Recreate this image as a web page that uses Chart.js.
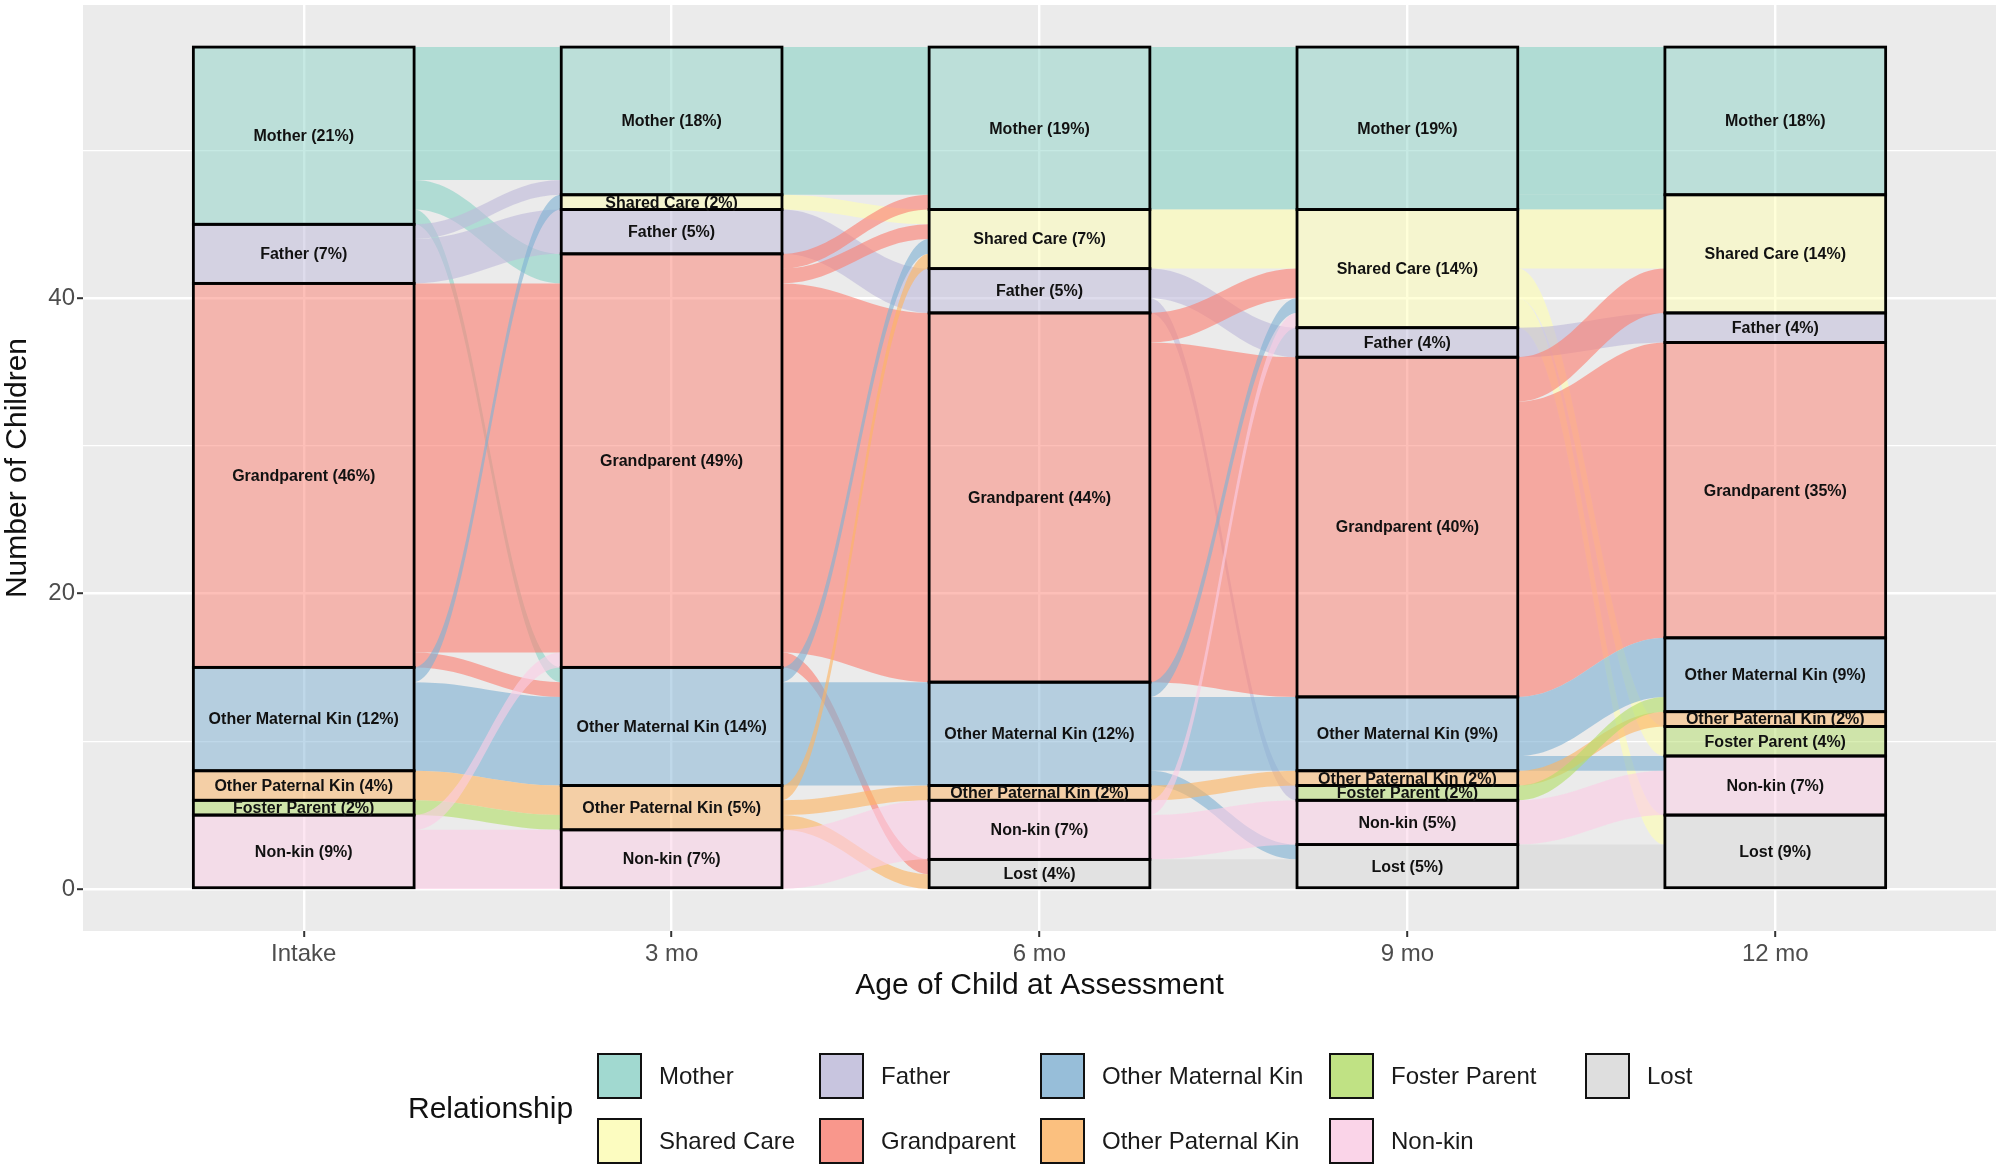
<!DOCTYPE html>
<html>
<head>
<meta charset="utf-8">
<script src="https://cdn.jsdelivr.net/npm/chart.js@4.4.1/dist/chart.umd.min.js"></script>
<style>
  html, body { margin: 0; padding: 0; background: #fff; }
  #wrap { position: relative; width: 2000px; height: 1169px; font-family: 'Liberation Sans', Arial, sans-serif; }
  #chart { position: absolute; left: 0; top: 0; }
  #legendTitle { position: absolute; left: 408px; top: 1090px; font-size: 30px; line-height: 36px; color: #111; }
  #legendKeys {
    position: absolute; left: 597px; top: 1053px;
    display: grid; grid-auto-flow: column;
    grid-template-rows: 46px 46px; row-gap: 19px;
    grid-template-columns: 222px 221px 289px 256px 140px;
  }
  .item { display: flex; align-items: center; }
  .key { width: 45px; height: 46px; box-sizing: border-box; border: 2.5px solid #111; }
  .lab { margin-left: 17px; font-size: 24px; color: #1a1a1a; white-space: nowrap; }
</style>
</head>
<body>
<div id="wrap">
  <canvas id="chart" width="2000" height="1169"></canvas>
  <div id="legendTitle">Relationship</div>
  <div id="legendKeys"></div>
</div>
<script>
// ---- data -----------------------------------------------------------------
const axes = ['Intake', '3 mo', '6 mo', '9 mo', '12 mo'];
const relationships = ['Mother', 'Shared Care', 'Father', 'Grandparent', 'Other Maternal Kin',
  'Other Paternal Kin', 'Foster Parent', 'Non-kin', 'Lost'];
const relColors = ['#8DD3C7', '#FFFFB3', '#BEBADA', '#FB8072', '#80B1D3',
  '#FDB462', '#B3DE69', '#FCCDE5', '#D9D9D9'];

// number of children in each relationship at each assessment
const mother            = [12, 10, 11, 11, 10];
const sharedCare        = [0, 1, 4, 8, 8];
const father            = [4, 3, 3, 2, 2];
const grandparent       = [26, 28, 25, 23, 20];
const otherMaternalKin  = [7, 8, 7, 5, 5];
const otherPaternalKin  = [2, 3, 1, 1, 1];
const fosterParent      = [1, 0, 0, 1, 2];
const nonKin            = [5, 4, 4, 3, 4];
const lost              = [0, 0, 2, 3, 5];
const counts = [mother, sharedCare, father, grandparent, otherMaternalKin,
  otherPaternalKin, fosterParent, nonKin, lost];

// transitions between neighbouring assessments: [from, to, children]
const flowsIntakeTo3 = [
  ['Mother', 'Mother', 9], ['Mother', 'Grandparent', 2], ['Mother', 'Other Maternal Kin', 1],
  ['Father', 'Mother', 1], ['Father', 'Father', 3],
  ['Grandparent', 'Grandparent', 25], ['Grandparent', 'Other Maternal Kin', 1],
  ['Other Maternal Kin', 'Shared Care', 1], ['Other Maternal Kin', 'Other Maternal Kin', 6],
  ['Other Paternal Kin', 'Other Paternal Kin', 2],
  ['Foster Parent', 'Other Paternal Kin', 1],
  ['Non-kin', 'Grandparent', 1], ['Non-kin', 'Non-kin', 4]
];
const flows3To6 = [
  ['Mother', 'Mother', 10],
  ['Shared Care', 'Shared Care', 1],
  ['Father', 'Father', 3],
  ['Grandparent', 'Mother', 1], ['Grandparent', 'Shared Care', 1],
  ['Grandparent', 'Grandparent', 25], ['Grandparent', 'Lost', 1],
  ['Other Maternal Kin', 'Shared Care', 1], ['Other Maternal Kin', 'Other Maternal Kin', 7],
  ['Other Paternal Kin', 'Shared Care', 1], ['Other Paternal Kin', 'Other Paternal Kin', 1],
  ['Other Paternal Kin', 'Lost', 1],
  ['Non-kin', 'Non-kin', 4]
];
const flows6To9 = [
  ['Mother', 'Mother', 11],
  ['Shared Care', 'Shared Care', 4],
  ['Father', 'Father', 2], ['Father', 'Foster Parent', 1],
  ['Grandparent', 'Shared Care', 2], ['Grandparent', 'Grandparent', 23],
  ['Other Maternal Kin', 'Shared Care', 1], ['Other Maternal Kin', 'Other Maternal Kin', 5],
  ['Other Maternal Kin', 'Lost', 1],
  ['Other Paternal Kin', 'Other Paternal Kin', 1],
  ['Non-kin', 'Shared Care', 1], ['Non-kin', 'Non-kin', 3],
  ['Lost', 'Lost', 2]
];
const flows9To12 = [
  ['Mother', 'Mother', 10], ['Mother', 'Shared Care', 1],
  ['Shared Care', 'Shared Care', 4], ['Shared Care', 'Foster Parent', 2], ['Shared Care', 'Lost', 2],
  ['Father', 'Father', 2],
  ['Grandparent', 'Shared Care', 3], ['Grandparent', 'Grandparent', 20],
  ['Other Maternal Kin', 'Other Maternal Kin', 4], ['Other Maternal Kin', 'Non-kin', 1],
  ['Other Paternal Kin', 'Other Paternal Kin', 1],
  ['Foster Parent', 'Other Maternal Kin', 1],
  ['Non-kin', 'Non-kin', 3],
  ['Lost', 'Lost', 3]
];
const gaps = [flowsIntakeTo3, flows3To6, flows6To9, flows9To12];

const yTickLabels = [0, 20, 40];
const yMinorTicks = [10, 30, 50];

// ---- helpers --------------------------------------------------------------
const BAR_WIDTH = 0.6;
const total = counts.reduce((s, c) => s + c[0], 0);

function rgba(hex, a) {
  const n = parseInt(hex.slice(1), 16);
  return `rgba(${n >> 16}, ${(n >> 8) & 255}, ${n & 255}, ${a})`;
}

// top value of each stratum at an assessment (first relationship stacked on top)
function stratumTops(axisIndex) {
  let top = total;
  return counts.map(c => { const t = top; top -= c[axisIndex]; return t; });
}

// position each flow inside its strata: ordered by the stratum on the other side
function layoutGap(gapIndex) {
  const rank = name => relationships.indexOf(name);
  const flows = gaps[gapIndex].map(([from, to, n]) => ({ from: rank(from), to: rank(to), n }));
  const left = stratumTops(gapIndex), right = stratumTops(gapIndex + 1);
  flows.slice().sort((a, b) => a.from - b.from || a.to - b.to).forEach(f => {
    f.l1 = left[f.from]; f.l0 = f.l1 - f.n; left[f.from] = f.l0;
  });
  flows.slice().sort((a, b) => a.to - b.to || a.from - b.from).forEach(f => {
    f.r1 = right[f.to]; f.r0 = f.r1 - f.n; right[f.to] = f.r0;
  });
  return flows;
}

const panelBackground = {
  id: 'panelBackground',
  beforeDraw(chart) {
    const { ctx, chartArea: a } = chart;
    ctx.save();
    ctx.fillStyle = '#EBEBEB';
    ctx.fillRect(a.left, a.top, a.right - a.left, a.bottom - a.top);
    ctx.restore();
  }
};

const alluvialFlows = {
  id: 'alluvialFlows',
  beforeDatasetsDraw(chart) {
    const { ctx } = chart;
    const xs = chart.scales.x, ys = chart.scales.y;
    const Y = v => ys.getPixelForValue(v);
    ctx.save();
    gaps.forEach((_, g) => {
      const xL = xs.getPixelForValue(g + 1 + BAR_WIDTH / 2);
      const xR = xs.getPixelForValue(g + 2 - BAR_WIDTH / 2);
      const dx = (xR - xL) * 0.4;
      layoutGap(g).forEach(f => {
        ctx.beginPath();
        ctx.moveTo(xL, Y(f.l1));
        ctx.bezierCurveTo(xL + dx, Y(f.l1), xR - dx, Y(f.r1), xR, Y(f.r1));
        ctx.lineTo(xR, Y(f.r0));
        ctx.bezierCurveTo(xR - dx, Y(f.r0), xL + dx, Y(f.l0), xL, Y(f.l0));
        ctx.closePath();
        ctx.fillStyle = rgba(relColors[f.from], 0.62);
        ctx.fill();
      });
    });
    ctx.restore();
  }
};

const strataOutline = {
  id: 'strataOutline',
  afterDatasetsDraw(chart) {
    const { ctx } = chart;
    ctx.save();
    chart.data.datasets.forEach((ds, d) => {
      const meta = chart.getDatasetMeta(d);
      meta.data.forEach((el, i) => {
        const c = ds.data[i].y;
        if (!c) return;
        const { x, y, base, width } = el.getProps(['x', 'y', 'base', 'width'], true);
        ctx.lineWidth = 2.8;
        ctx.strokeStyle = '#000';
        ctx.strokeRect(x - width / 2, Math.min(y, base), width, Math.abs(base - y));
      });
    });
    ctx.font = "bold 16px 'Liberation Sans', Arial, sans-serif";
    ctx.fillStyle = '#111';
    ctx.textAlign = 'center';
    ctx.textBaseline = 'middle';
    chart.data.datasets.forEach((ds, d) => {
      const meta = chart.getDatasetMeta(d);
      meta.data.forEach((el, i) => {
        const c = ds.data[i].y;
        if (!c) return;
        const { x, y, base } = el.getProps(['x', 'y', 'base'], true);
        const pct = Math.round(100 * c / total);
        ctx.fillText(`${ds.label} (${pct}%)`, x, (y + base) / 2 + 1);
      });
    });
    ctx.restore();
  }
};

// ---- chart ----------------------------------------------------------------
Chart.defaults.font.family = "'Liberation Sans', Arial, sans-serif";

// bottom of the stack first
const order = relationships.map((_, i) => i).reverse();
const datasets = order.map(r => ({
  label: relationships[r],
  data: counts[r].map((c, i) => ({ x: i + 1, y: c })),
  backgroundColor: rgba(relColors[r], 0.5),
  borderWidth: 0,
  categoryPercentage: BAR_WIDTH,
  barPercentage: 1
}));

new Chart(document.getElementById('chart'), {
  type: 'bar',
  data: { datasets },
  plugins: [panelBackground, alluvialFlows, strataOutline],
  options: {
    responsive: false,
    animation: false,
    devicePixelRatio: 1,
    layout: { padding: { top: 5, right: 4, left: 0, bottom: 163 } },
    plugins: { legend: { display: false }, tooltip: { enabled: false } },
    scales: {
      x: {
        type: 'linear', min: 0.4, max: 5.6, stacked: true, offset: false,
        afterBuildTicks: axis => { axis.ticks = axes.map((_, i) => ({ value: i + 1 })); },
        afterFit: axis => { axis.height = 75; axis.paddingLeft = 0; axis.paddingRight = 0; },
        grid: { offset: false, color: '#fff', lineWidth: 2.4, tickLength: 6, tickColor: '#333', tickWidth: 2 },
        border: { display: false },
        ticks: {
          callback: v => axes[v - 1] || '', color: '#4D4D4D', font: { size: 24 },
          padding: 3, maxRotation: 0, autoSkip: false
        },
        title: {
          display: true, text: 'Age of Child at Assessment', color: '#111',
          font: { size: 30 }, padding: { top: 0, bottom: 2 }
        }
      },
      y: {
        min: -2.85, max: 59.85, stacked: true,
        afterBuildTicks: axis => {
          axis.ticks = yTickLabels.concat(yMinorTicks).sort((a, b) => a - b).map(v => ({ value: v }));
        },
        afterFit: axis => { axis.width = 83; axis.paddingTop = 0; axis.paddingBottom = 0; },
        grid: {
          color: '#fff',
          lineWidth: c => (yTickLabels.includes(c.tick.value) ? 2.4 : 1.2),
          tickLength: 6, tickWidth: 2,
          tickColor: c => (yTickLabels.includes(c.tick.value) ? '#333' : 'rgba(0,0,0,0)')
        },
        border: { display: false },
        ticks: {
          callback: v => (yTickLabels.includes(v) ? String(v) : ''),
          color: '#4D4D4D', font: { size: 24 }, padding: 2
        },
        title: {
          display: true, text: 'Number of Children', color: '#111',
          font: { size: 30 }, padding: { top: 0, bottom: 0 }
        }
      }
    }
  }
});

// ---- legend (two rows, filled column by column) ----------------------------
function keyColor(hex) {
  // 80% of the colour over the grey legend-key background
  const n = parseInt(hex.slice(1), 16);
  const mix = ch => Math.round(ch * 0.8 + 242 * 0.2);
  return `rgb(${mix(n >> 16)}, ${mix((n >> 8) & 255)}, ${mix(n & 255)})`;
}
const legendKeys = document.getElementById('legendKeys');
relationships.forEach((name, i) => {
  const item = document.createElement('div');
  item.className = 'item';
  item.innerHTML = `<div class="key" style="background:${keyColor(relColors[i])}"></div><span class="lab">${name}</span>`;
  legendKeys.appendChild(item);
});
</script>
</body>
</html>
